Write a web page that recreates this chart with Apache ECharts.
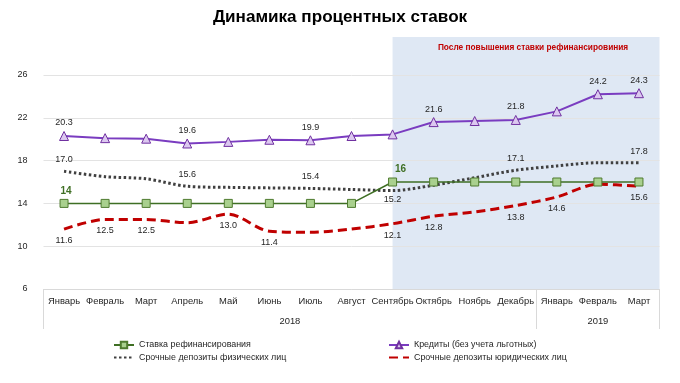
<!DOCTYPE html>
<html><head><meta charset="utf-8">
<script src="https://cdn.jsdelivr.net/npm/echarts@6/dist/echarts.min.js"></script>
<style>html,body{margin:0;padding:0;background:#fff}#c{width:680px;height:383px}</style>
</head><body><div id="c"></div>
<script>
// ---- data ----
const months = ['Январь','Февраль','Март','Апрель','Май','Июнь','Июль','Август','Сентябрь','Октябрь','Ноябрь','Декабрь','Январь','Февраль','Март'];
const years = ['2018','2019'];
const yearSpans = [12, 3];
const yMin = 6, yMax = 26, yStep = 4;
const seriesNames = ['Ставка рефинансирования','Кредиты (без учета льготных)','Срочные депозиты физических лиц','Срочные депозиты юридических лиц'];
const refRate    = [14,14,14,14,14,14,14,14,16,16,16,16,16,16,16];
const credits    = [20.3,20.1,20.05,19.6,19.75,19.95,19.9,20.3,20.45,21.6,21.7,21.8,22.6,24.2,24.3];
const depPersons = [17.0,16.5,16.3,15.6,15.5,15.45,15.4,15.3,15.2,15.7,16.4,17.1,17.5,17.8,17.8];
const depCorp    = [11.6,12.5,12.5,12.2,13.0,11.4,11.3,11.6,12.1,12.8,13.2,13.8,14.6,15.8,15.6];
const refLabelIdx     = [0, 8];
const creditLabelIdx  = [0,3,6,9,11,13,14];
const personsLabelIdx = [0,3,6,8,11,14];
const personsBelowIdx = [8];
const corpLabelIdx    = [0,1,2,4,5,8,9,11,12,14];
const shadeFrom = 8; // Сентябрь 2018
const annotation = 'После повышения ставки рефинансировиния';
const title = 'Динамика процентных ставок';

// ---- styling helpers ----
const FF = "'Liberation Sans',Arial,sans-serif";
const mctx = document.createElement('canvas').getContext('2d');
function fitSize(text, target, weight) {
  mctx.font = (weight || 'normal') + ' 100px ' + FF;
  return Math.round(1000 * target / mctx.measureText(text).width) / 10;
}
const monthFS  = fitSize('Сентябрь', 42);
const legendFS = fitSize('Срочные депозиты юридических лиц', 154);
const labelFS  = fitSize('20.3', 17.5);
const titleFS  = fitSize(title, 254, 'bold');
const annoFS   = fitSize(annotation, 191, 'bold');

const chart = echarts.init(document.getElementById('c'), null, {renderer:'canvas'});

const yearCenters = [];
const yearBounds = [0];
let acc = 0;
yearSpans.forEach(s => { yearCenters.push(acc + s/2); acc += s; yearBounds.push(acc); });

const fmt1 = p => Number(p.value).toFixed(1);
const lblBase = {fontFamily: FF, fontSize: labelFS, color: '#262626'};
const legText = {fontFamily: FF, fontSize: legendFS, color: '#262626'};

chart.setOption({
  animation: false,
  title: {text: title, left: 'center', top: 4,
    textStyle: {fontSize: titleFS, fontWeight: 'bold', color: '#000', fontFamily: FF}},
  grid: {left: 43.5, right: 20.5, top: 75, bottom: 94, containLabel: false},
  legend: [
    {data: [{name: seriesNames[0]}, {name: seriesNames[2], itemStyle: {opacity: 0}}],
     orient: 'vertical', left: 108, top: 335.5, itemWidth: 20, itemHeight: 8, itemGap: 3.5, textStyle: legText},
    {data: [{name: seriesNames[1]}, {name: seriesNames[3], itemStyle: {opacity: 0}}],
     orient: 'vertical', left: 383, top: 335.5, itemWidth: 20, itemHeight: 8, itemGap: 3.5, textStyle: legText}
  ],
  xAxis: [
    {type: 'category', data: months, boundaryGap: true,
     axisLine: {lineStyle: {color: '#d9d9d9'}}, axisTick: {show: false},
     axisLabel: {interval: 0, fontFamily: FF, fontSize: monthFS, color: '#262626', margin: 8}},
    {type: 'value', min: 0, max: months.length, position: 'bottom', gridIndex: 0,
     axisLine: {show: false}, splitLine: {show: false},
     axisTick: {show: true, customValues: yearBounds, length: 40, lineStyle: {color: '#d9d9d9'}},
     axisLabel: {customValues: yearCenters, margin: 28, fontFamily: FF, fontSize: monthFS, color: '#262626',
       formatter: v => years[yearCenters.indexOf(v)] || ''}}
  ],
  yAxis: {type: 'value', min: yMin, max: yMax, interval: yStep,
    axisLine: {show: false}, axisTick: {show: false},
    splitLine: {lineStyle: {color: '#e3e3e3'}},
    axisLabel: {fontFamily: FF, fontSize: labelFS, color: '#262626', margin: 16}},
  series: [
    {name: seriesNames[0], type: 'line', z: 4,
     data: refRate.map((v,i) => ({value: v, label: {show: refLabelIdx.includes(i), offset: i ? [8,0] : [2,0]}})),
     symbol: 'rect', symbolSize: 8,
     lineStyle: {color: '#3f6f24', width: 1.5},
     itemStyle: {color: '#a9d08e', borderColor: '#4f7b2f', borderWidth: 1},
     label: {position: 'top', distance: 3, fontFamily: FF, fontSize: labelFS + 1, fontWeight: 'bold', color: '#3f6f24', formatter: p => String(p.value)}},
    {name: seriesNames[1], type: 'line', z: 4,
     data: credits.map((v,i) => ({value: v, label: {show: creditLabelIdx.includes(i)}})),
     symbol: 'triangle', symbolSize: 9,
     lineStyle: {color: '#7a3cc0', width: 2},
     itemStyle: {color: '#dcc8f0', borderColor: '#7030a0', borderWidth: 1},
     label: Object.assign({position: 'top', distance: 3.5, formatter: fmt1}, lblBase)},
    {name: seriesNames[2], type: 'line', z: 3,
     data: depPersons.map((v,i) => ({value: v, label: {show: personsLabelIdx.includes(i),
       position: personsBelowIdx.includes(i) ? 'bottom' : 'top', distance: personsBelowIdx.includes(i) ? 3.5 : 6.5}})),
     symbol: 'circle', symbolSize: 1, smooth: 0.3,
     lineStyle: {color: '#404040', width: 3, type: [2.5,2.5], cap: 'butt'},
     itemStyle: {color: 'rgba(0,0,0,0)'},
     emphasis: {disabled: true},
     label: Object.assign({formatter: fmt1}, lblBase)},
    {name: seriesNames[3], type: 'line', z: 3,
     data: depCorp.map((v,i) => ({value: v, label: {show: corpLabelIdx.includes(i)}})),
     symbol: 'circle', symbolSize: 1, smooth: 0.3,
     lineStyle: {color: '#c00000', width: 3, type: [9,5], cap: 'butt'},
     itemStyle: {color: 'rgba(0,0,0,0)'},
     emphasis: {disabled: true},
     label: Object.assign({position: 'bottom', distance: 6.5, formatter: fmt1}, lblBase)}
  ]
});

// shaded period and annotation
const xL = chart.convertToPixel({xAxisIndex: 0}, shadeFrom);
const gridRect = chart.getModel().getComponent('grid').coordinateSystem.getRect();
const xR = gridRect.x + gridRect.width;
const yBot = chart.convertToPixel({yAxisIndex: 0}, yMin);
const shadeTop = 37;
chart.setOption({
  graphic: [
    {type: 'rect', z: -10, silent: true,
     shape: {x: xL, y: shadeTop, width: xR - xL, height: yBot - shadeTop},
     style: {fill: '#dfe8f4'}},
    {type: 'text', z: 10, silent: true,
     x: (xL + xR) / 2 + 7, y: 48,
     style: {text: annotation, fill: '#c00000', font: 'bold ' + annoFS + 'px ' + FF, align: 'center', verticalAlign: 'middle'}}
  ]
});
</script>
</body></html>
